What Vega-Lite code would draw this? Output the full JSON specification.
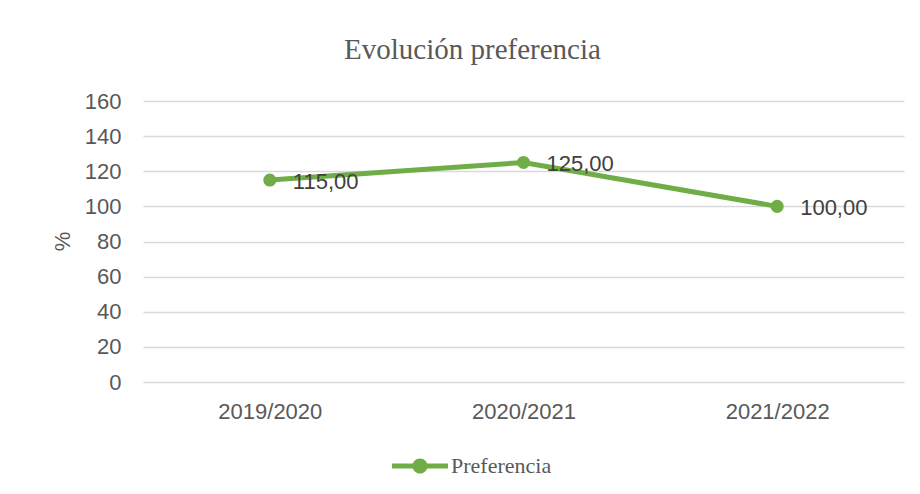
{
  "$schema": "https://vega.github.io/schema/vega-lite/v6.json",
  "autosize": "none",
  "width": 761,
  "height": 281,
  "padding": {"left": 143, "top": 101, "right": 16, "bottom": 112},
  "background": "white",
  "config": {
    "view": {"stroke": null},
    "locale": {"number": {"decimal": ",", "thousands": ".", "grouping": [3], "currency": ["", " €"]}},
    "font": "Liberation Sans"
  },
  "title": {
    "text": "Evolución preferencia",
    "font": "Liberation Serif",
    "fontSize": 29,
    "fontWeight": "normal",
    "color": "#595959",
    "anchor": "middle",
    "dx": -51,
    "offset": 25
  },
  "data": {
    "values": [
      {"curso": "2019/2020", "valor": 115},
      {"curso": "2020/2021", "valor": 125},
      {"curso": "2021/2022", "valor": 100}
    ]
  },
  "encoding": {
    "x": {
      "field": "curso",
      "type": "nominal",
      "sort": null,
      "scale": {"type": "point", "padding": 0.5},
      "axis": {
        "title": null,
        "labelAngle": 0,
        "domain": false,
        "ticks": false,
        "grid": false,
        "labelPadding": 19,
        "labelFontSize": 22,
        "labelColor": "#595959",
        "labelFont": "Liberation Sans"
      }
    },
    "y": {
      "field": "valor",
      "type": "quantitative",
      "scale": {"domain": [0, 160], "nice": false},
      "axis": {
        "values": [0, 20, 40, 60, 80, 100, 120, 140, 160],
        "title": "%",
        "titleFont": "Liberation Sans",
        "titleFontSize": 22,
        "titleFontWeight": "normal",
        "titleColor": "#595959",
        "titleX": -81,
        "titleY": 140,
        "titleAngle": -90,
        "titleAlign": "center",
        "titleBaseline": "middle",
        "domain": false,
        "ticks": false,
        "labelPadding": 22,
        "labelFontSize": 22,
        "labelColor": "#595959",
        "labelFont": "Liberation Sans",
        "gridColor": "#D9D9D9",
        "gridWidth": 1.5
      }
    }
  },
  "layer": [
    {
      "mark": {"type": "line", "strokeWidth": 5, "point": {"filled": true, "size": 170}},
      "encoding": {
        "color": {
          "datum": "Preferencia",
          "type": "nominal",
          "scale": {"range": ["#70AD47"]},
          "legend": {
            "title": null,
            "orient": "none",
            "legendX": 249,
            "legendY": 337,
            "symbolType": "M-1,-0.09H1V0.09H-1Z M-0.27,0A0.27,0.27,0,1,1,0.27,0A0.27,0.27,0,1,1,-0.27,0Z",
            "symbolSize": 3136,
            "labelFont": "Liberation Serif",
            "labelFontSize": 22,
            "labelColor": "#595959",
            "labelOffset": 3,
            "encode": {
              "symbols": {
                "update": {
                  "fill": {"value": "#70AD47"},
                  "stroke": {"value": "#70AD47"},
                  "strokeWidth": {"value": 0},
                  "opacity": {"value": 1}
                }
              }
            }
          }
        }
      }
    },
    {
      "mark": {"type": "text", "align": "left", "baseline": "middle", "dx": 23, "dy": 2, "fontSize": 22, "color": "#404040", "font": "Liberation Sans"},
      "encoding": {
        "text": {"field": "valor", "type": "quantitative", "format": ".2f"}
      }
    }
  ]
}
